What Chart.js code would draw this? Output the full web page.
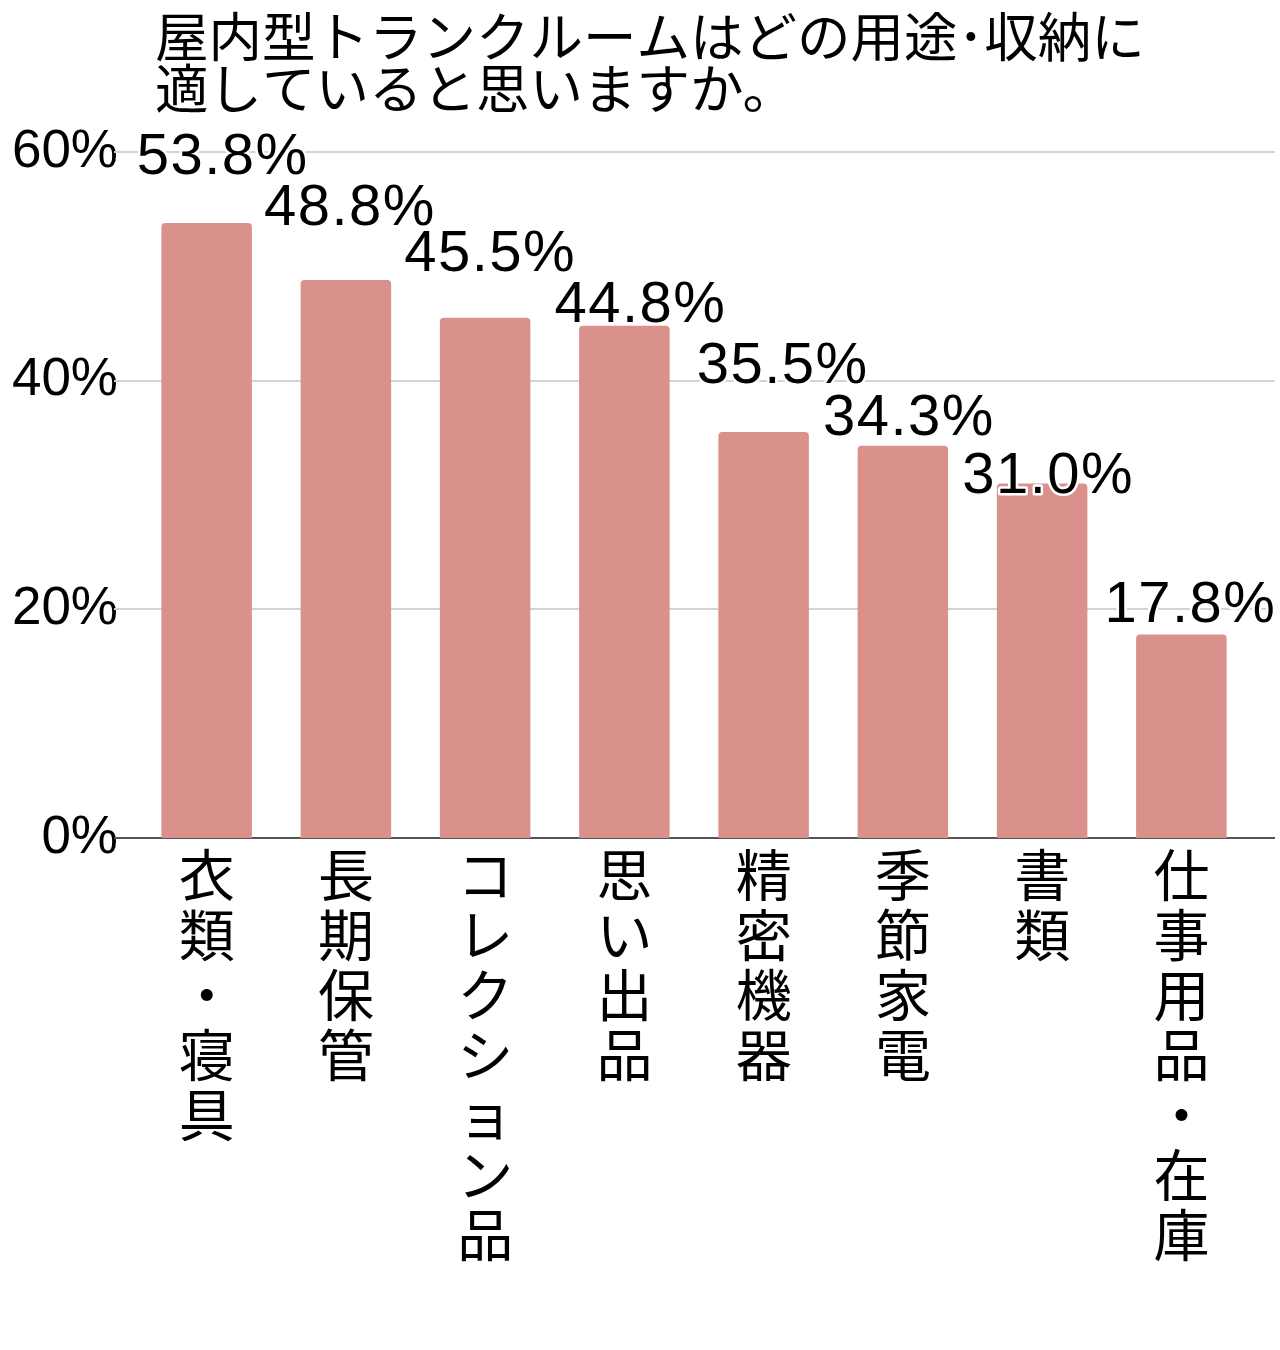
<!DOCTYPE html>
<html lang="ja">
<head>
<meta charset="utf-8">
<script src="https://cdn.jsdelivr.net/npm/chart.js@4.4.1/dist/chart.umd.min.js"></script>
<style>
  html, body { margin: 0; padding: 0; background: #fff; }
  #wrap { width: 1280px; height: 1350px; }
</style>
</head>
<body>
<div id="wrap"><canvas id="myChart"></canvas></div>
<script>
(function() {
  var titleLines = ['屋内型トランクルームはどの用途･収納に', '適していると思いますか。'];
  var categories = ['衣類・寝具', '長期保管', 'コレクション品', '思い出品', '精密機器', '季節家電', '書類', '仕事用品・在庫'];
  var shares = [53.8, 48.8, 45.5, 44.8, 35.5, 34.3, 31.0, 17.8];
  var yTicks = [0, 20, 40, 60];

  // value labels were nudged in the original to dodge each other: [dx, lift above bar top]
  var labelShift = [[16, 49], [4, 55], [5, 47], [16, 4], [19, 49], [6, 11], [6, -9], [9, 12]];

  var CJK = "'Noto Sans CJK JP', 'Noto Sans', sans-serif";
  var NUM = "'Liberation Sans', 'Noto Sans CJK JP', sans-serif";
  Chart.defaults.font.family = CJK;
  Chart.defaults.color = '#000';

  var wideGrid = {
    id: 'wideGrid',
    beforeDatasetsDraw: function(chart) {
      var ctx = chart.ctx, y = chart.scales.y, a = chart.chartArea;
      ctx.save();
      ctx.lineWidth = 2;
      y.ticks.forEach(function(t) {
        var py = Math.round(y.getPixelForValue(t.value));
        ctx.beginPath();
        ctx.strokeStyle = t.value === 0 ? '#555555' : '#d3d3d3';
        ctx.moveTo(a.left - 23, py);
        ctx.lineTo(a.right + 24, py);
        ctx.stroke();
      });
      ctx.restore();
    }
  };

  var valueLabels = {
    id: 'valueLabels',
    afterDatasetsDraw: function(chart) {
      var ctx = chart.ctx;
      var bars = chart.getDatasetMeta(0).data;
      ctx.save();
      ctx.font = '58px ' + NUM;
      ctx.letterSpacing = '1.5px';
      ctx.textAlign = 'center';
      ctx.textBaseline = 'alphabetic';
      ctx.lineJoin = 'round';
      bars.forEach(function(bar, i) {
        var txt = shares[i].toFixed(1) + '%';
        var x = bar.x + labelShift[i][0];
        var y = bar.y - labelShift[i][1];
        ctx.lineWidth = 5;
        ctx.strokeStyle = '#fff';
        ctx.strokeText(txt, x, y);
        ctx.fillStyle = '#000';
        ctx.fillText(txt, x, y);
      });
      ctx.restore();
    }
  };

  var titleText = {
    id: 'titleText',
    afterDraw: function(chart) {
      var ctx = chart.ctx;
      ctx.save();
      ctx.font = '53.5px ' + CJK;
      ctx.textAlign = 'left';
      ctx.textBaseline = 'middle';
      ctx.fillStyle = '#000';
      titleLines.forEach(function(line, i) {
        ctx.fillText(line, 155, 37 + i * 52);
      });
      ctx.restore();
    }
  };

  var ctx = document.getElementById('myChart').getContext('2d');
  new Chart(ctx, {
    type: 'bar',
    data: {
      labels: categories.map(function(c) { return c.split(''); }),
      datasets: [
        {
          label: '',
          data: shares,
          backgroundColor: '#da918b',
          borderRadius: 4,
          barPercentage: 0.65,
          categoryPercentage: 1
        }
      ]
    },
    options: {
      responsive: true,
      maintainAspectRatio: false,
      animation: false,
      layout: { padding: { top: 152, right: 29, bottom: 0, left: 0 } },
      plugins: {
        legend: { display: false },
        title: { display: false },
        tooltip: { enabled: false }
      },
      scales: {
        x: {
          grid: { display: false },
          border: { display: false },
          ticks: {
            autoSkip: false,
            maxRotation: 0,
            minRotation: 0,
            padding: -1,
            color: '#000',
            font: { size: 56, lineHeight: 1.07 }
          },
          afterFit: function(scale) { scale.height = 512; }
        },
        y: {
          min: 0,
          max: 60,
          grid: { display: false, drawTicks: false },
          border: { display: false },
          afterBuildTicks: function(scale) {
            scale.ticks = yTicks.map(function(v) { return { value: v }; });
          },
          ticks: {
            padding: 19,
            color: '#000',
            font: { size: 53, family: NUM },
            callback: function(v) { return v + '%'; }
          },
          afterFit: function(scale) { scale.width = 137; }
        }
      }
    },
    plugins: [wideGrid, valueLabels, titleText]
  });
})();
</script>
</body>
</html>
